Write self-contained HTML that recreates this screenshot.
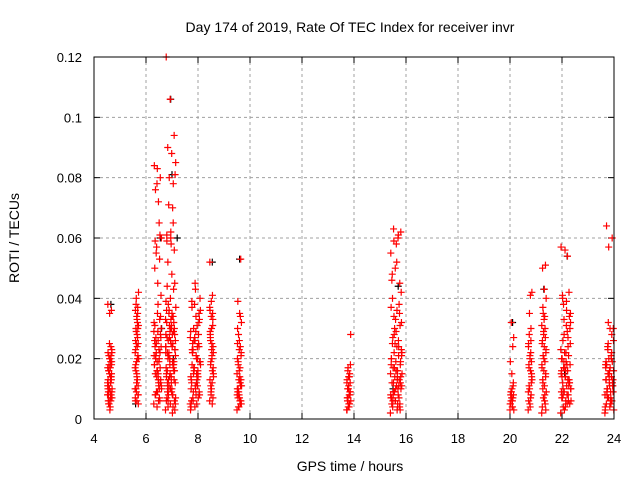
<!DOCTYPE html>
<html><head><meta charset="utf-8"><style>
body{margin:0;background:#fff;}
svg text{font-family:"Liberation Sans",sans-serif;fill:#000;}
</style></head><body>
<svg id="chart" width="640" height="480" xmlns="http://www.w3.org/2000/svg">
<rect width="640" height="480" fill="#fff"/>
<text x="350" y="32" font-size="14" text-anchor="middle">Day 174 of 2019, Rate Of TEC Index for receiver invr</text>
<text transform="translate(19,238) rotate(-90)" font-size="14" text-anchor="middle">ROTI / TECUs</text>
<text x="350" y="471" font-size="14" text-anchor="middle">GPS time / hours</text>
<g id="grid"></g><g id="axes"></g><g id="black"></g><g id="red"></g>
<rect x="94" y="57" width="520" height="362" fill="none" stroke="#000" stroke-width="1"/>
</svg>
<script>
const xTicks=[4,6,8,10,12,14,16,18,20,22,24];
const yTicks=[0,0.02,0.04,0.06,0.08,0.1,0.12];
const yTickLabels=["0","0.02","0.04","0.06","0.08","0.1","0.12"];
const passStart=[4.52,5.58,6.3,6.75,7.7,8.45,9.5,13.72,15.4,20.0,20.7,21.22,21.95,23.65];
const passEnd=[4.7,5.72,6.6,7.15,8.1,8.6,9.68,13.88,15.85,20.15,20.85,21.4,22.35,24.0];
const passValues=[
[0.008,0.012,0.005,0.015,0.02,0.01,0.006,0.018,0.022,0.004,0.009,0.014,0.025,0.011,0.007,0.016,0.019,0.003,0.013,0.021,0.006,0.01,0.017,0.008,0.036,0.035,0.038,0.012,0.005,0.009,0.004,0.006,0.008,0.01,0.012,0.014,0.016,0.018,0.02,0.022,0.024,0.005,0.007,0.009,0.011,0.013,0.015,0.017,0.019,0.021,0.023],
[0.01,0.02,0.03,0.025,0.015,0.006,0.035,0.04,0.042,0.028,0.018,0.008,0.012,0.022,0.032,0.038,0.005,0.014,0.026,0.03,0.009,0.02,0.024,0.016,0.011,0.034,0.007,0.027,0.029,0.031,0.033,0.023,0.021,0.019,0.017,0.013,0.01,0.008,0.006,0.036,0.037,0.025],
[0.005,0.012,0.02,0.028,0.035,0.018,0.01,0.025,0.03,0.015,0.008,0.022,0.004,0.032,0.019,0.027,0.013,0.045,0.05,0.053,0.057,0.06,0.072,0.076,0.08,0.083,0.084,0.065,0.055,0.041,0.038,0.024,0.006,0.016,0.029,0.011,0.021,0.034,0.009,0.026,0.007,0.009,0.011,0.013,0.015,0.017,0.019,0.021,0.023,0.025,0.027,0.029,0.031,0.033,0.014,0.01,0.006,0.008,0.012,0.016,0.018,0.02,0.022,0.024,0.026,0.059,0.061,0.078],
[0.003,0.01,0.02,0.03,0.04,0.015,0.025,0.035,0.005,0.012,0.022,0.032,0.018,0.028,0.008,0.038,0.045,0.06,0.061,0.065,0.08,0.085,0.088,0.09,0.094,0.106,0.12,0.07,0.071,0.081,0.058,0.044,0.043,0.014,0.024,0.034,0.006,0.016,0.026,0.036,0.004,0.011,0.021,0.031,0.009,0.019,0.029,0.039,0.002,0.013,0.023,0.033,0.007,0.017,0.027,0.037,0.048,0.052,0.056,0.005,0.006,0.008,0.01,0.012,0.014,0.016,0.018,0.02,0.022,0.024,0.026,0.028,0.03,0.032,0.034,0.036,0.007,0.009,0.011,0.013,0.015,0.017,0.019,0.021,0.023,0.025,0.027,0.029,0.031,0.033,0.035,0.004,0.006,0.01,0.014,0.018,0.022,0.026,0.03,0.012,0.016,0.02,0.024,0.028,0.008,0.003,0.062,0.059,0.078],
[0.005,0.015,0.025,0.035,0.045,0.01,0.02,0.03,0.04,0.008,0.018,0.028,0.038,0.003,0.013,0.023,0.033,0.043,0.006,0.016,0.026,0.036,0.012,0.022,0.032,0.004,0.014,0.024,0.009,0.019,0.029,0.039,0.007,0.017,0.027,0.005,0.007,0.009,0.011,0.013,0.015,0.017,0.019,0.021,0.023,0.025,0.027,0.029,0.031,0.006,0.008,0.01,0.012,0.014,0.016,0.018,0.02,0.022,0.024,0.026,0.004,0.011,0.015,0.019,0.034,0.037],
[0.006,0.012,0.018,0.024,0.03,0.036,0.041,0.009,0.015,0.021,0.027,0.033,0.039,0.052,0.005,0.011,0.017,0.023,0.029,0.035,0.008,0.014,0.02,0.026,0.007,0.01,0.013,0.016,0.019,0.022,0.025,0.028,0.031,0.034,0.037],
[0.003,0.006,0.01,0.013,0.016,0.02,0.024,0.028,0.032,0.035,0.039,0.053,0.004,0.008,0.012,0.018,0.022,0.026,0.03,0.005,0.009,0.011,0.014,0.007,0.006,0.008,0.01,0.012,0.004,0.005,0.007,0.009,0.011,0.013,0.015,0.017,0.019,0.021,0.023,0.025,0.034],
[0.003,0.005,0.007,0.009,0.011,0.013,0.015,0.017,0.028,0.004,0.006,0.008,0.01,0.012,0.014,0.016,0.018,0.005,0.007,0.009,0.004,0.006,0.008,0.01,0.012,0.014,0.003,0.005,0.007],
[0.002,0.005,0.008,0.012,0.016,0.02,0.024,0.028,0.032,0.036,0.04,0.045,0.05,0.055,0.06,0.063,0.062,0.058,0.046,0.038,0.03,0.022,0.014,0.006,0.003,0.01,0.018,0.026,0.034,0.042,0.052,0.048,0.035,0.025,0.015,0.004,0.009,0.019,0.029,0.007,0.011,0.017,0.021,0.003,0.004,0.005,0.006,0.007,0.008,0.009,0.01,0.011,0.012,0.013,0.014,0.015,0.016,0.017,0.018,0.019,0.02,0.021,0.022,0.023,0.024,0.025,0.004,0.006,0.008,0.01,0.012,0.014,0.016,0.005,0.007,0.009,0.011,0.013,0.027,0.031,0.033,0.037,0.061,0.059],
[0.003,0.006,0.009,0.012,0.015,0.019,0.024,0.032,0.027,0.004,0.008,0.011,0.007,0.005,0.004,0.006,0.008,0.01,0.005,0.007,0.009,0.003],
[0.003,0.007,0.011,0.015,0.02,0.025,0.03,0.035,0.042,0.041,0.018,0.012,0.005,0.009,0.022,0.028,0.014,0.004,0.006,0.008,0.01,0.013,0.016,0.017,0.019,0.021,0.024,0.026],
[0.002,0.006,0.01,0.015,0.02,0.025,0.03,0.035,0.04,0.043,0.05,0.051,0.028,0.018,0.008,0.012,0.022,0.033,0.004,0.005,0.007,0.009,0.011,0.013,0.014,0.016,0.017,0.019,0.021,0.023,0.024,0.026,0.027,0.029,0.031,0.034,0.037,0.003],
[0.002,0.005,0.008,0.012,0.016,0.02,0.024,0.028,0.032,0.036,0.04,0.042,0.056,0.057,0.054,0.038,0.03,0.022,0.014,0.006,0.003,0.01,0.018,0.026,0.034,0.004,0.009,0.013,0.019,0.025,0.031,0.007,0.011,0.017,0.023,0.029,0.004,0.005,0.006,0.007,0.008,0.009,0.01,0.011,0.012,0.013,0.014,0.015,0.016,0.017,0.018,0.019,0.02,0.021,0.022,0.006,0.008,0.01,0.012,0.014,0.016,0.027,0.033,0.035,0.039,0.041],
[0.002,0.005,0.008,0.011,0.014,0.017,0.02,0.023,0.026,0.03,0.064,0.06,0.057,0.004,0.007,0.01,0.013,0.016,0.019,0.022,0.025,0.003,0.006,0.009,0.012,0.015,0.018,0.021,0.024,0.03,0.004,0.005,0.006,0.007,0.008,0.009,0.01,0.011,0.012,0.013,0.014,0.015,0.016,0.017,0.018,0.019,0.02,0.003,0.005,0.007,0.009,0.011,0.013,0.028,0.032]
];
const blackHours=[4.65,6.55,6.95,7.2,8.55,9.6,15.7,20.1,21.3,22.2,5.6,7.0,6.6,7.05,15.5,22.1];
const blackValues=[0.038,0.06,0.106,0.06,0.052,0.053,0.044,0.032,0.043,0.054,0.005,0.081,0.03,0.02,0.01,0.015];

const NS="http://www.w3.org/2000/svg";
const X0=94,X1=614,Y0=419,Y1=57;
function sx(h){return X0+(h-4)/20*(X1-X0);}
function sy(v){return Y0-v/0.12*(Y0-Y1);}
function mk(tag,attrs,parent){const e=document.createElementNS(NS,tag);for(const k in attrs)e.setAttribute(k,attrs[k]);parent.appendChild(e);return e;}
const grid=document.getElementById('grid'),axes=document.getElementById('axes');
xTicks.forEach((t,i)=>{
  const x=sx(t);
  if(i>0&&i<xTicks.length-1){const g=mk('line',{x1:x,x2:x,y1:Y0,y2:Y1,stroke:'#a0a0a0','stroke-dasharray':'3,3'},grid);
  
  }
  const a=mk('line',{x1:x,x2:x,y1:Y0,y2:Y0-6,stroke:'#000'},axes);
  
  
  const b=mk('line',{x1:x,x2:x,y1:Y1,y2:Y1+6,stroke:'#000'},axes);
  
  
  const tx=mk('text',{x:x,y:443,'font-size':13,'text-anchor':'middle'},axes);tx.textContent=String(t);
  
  
});
yTicks.forEach((t,i)=>{
  const y=sy(t);
  if(i>0&&i<yTicks.length-1){const g=mk('line',{x1:X0,x2:X1,y1:y,y2:y,stroke:'#a0a0a0','stroke-dasharray':'3,3'},grid);
  
  }
  const a=mk('line',{x1:X0,x2:X0+6,y1:y,y2:y,stroke:'#000'},axes);
  
  
  const b=mk('line',{x1:X1,x2:X1-6,y1:y,y2:y,stroke:'#000'},axes);
  
  
  const tx=mk('text',{x:82,y:y+5,'font-size':13,'text-anchor':'end'},axes);tx.textContent=yTickLabels[i];
  
  
});
function plus(x,y,color,parent){
  return mk('path',{d:`M${x-3.5},${y}h7M${x},${y-3.5}v7`,stroke:color,'stroke-width':1.2,fill:'none'},parent);
}
const bl=document.getElementById('black');
blackHours.forEach((h,i)=>{
  const p=plus(sx(h),sy(blackValues[i]),'#000',bl);
  
  
});
const rd=document.getElementById('red');
passValues.forEach((vals,pi)=>{
  vals.forEach((v,i)=>{
    const frac=(i*0.618034)%1;
    const h=passStart[pi]+(passEnd[pi]-passStart[pi])*frac;
    const p=plus(sx(h),sy(v),'#f00',rd);
    
    
  });
});
</script>
</body></html>
